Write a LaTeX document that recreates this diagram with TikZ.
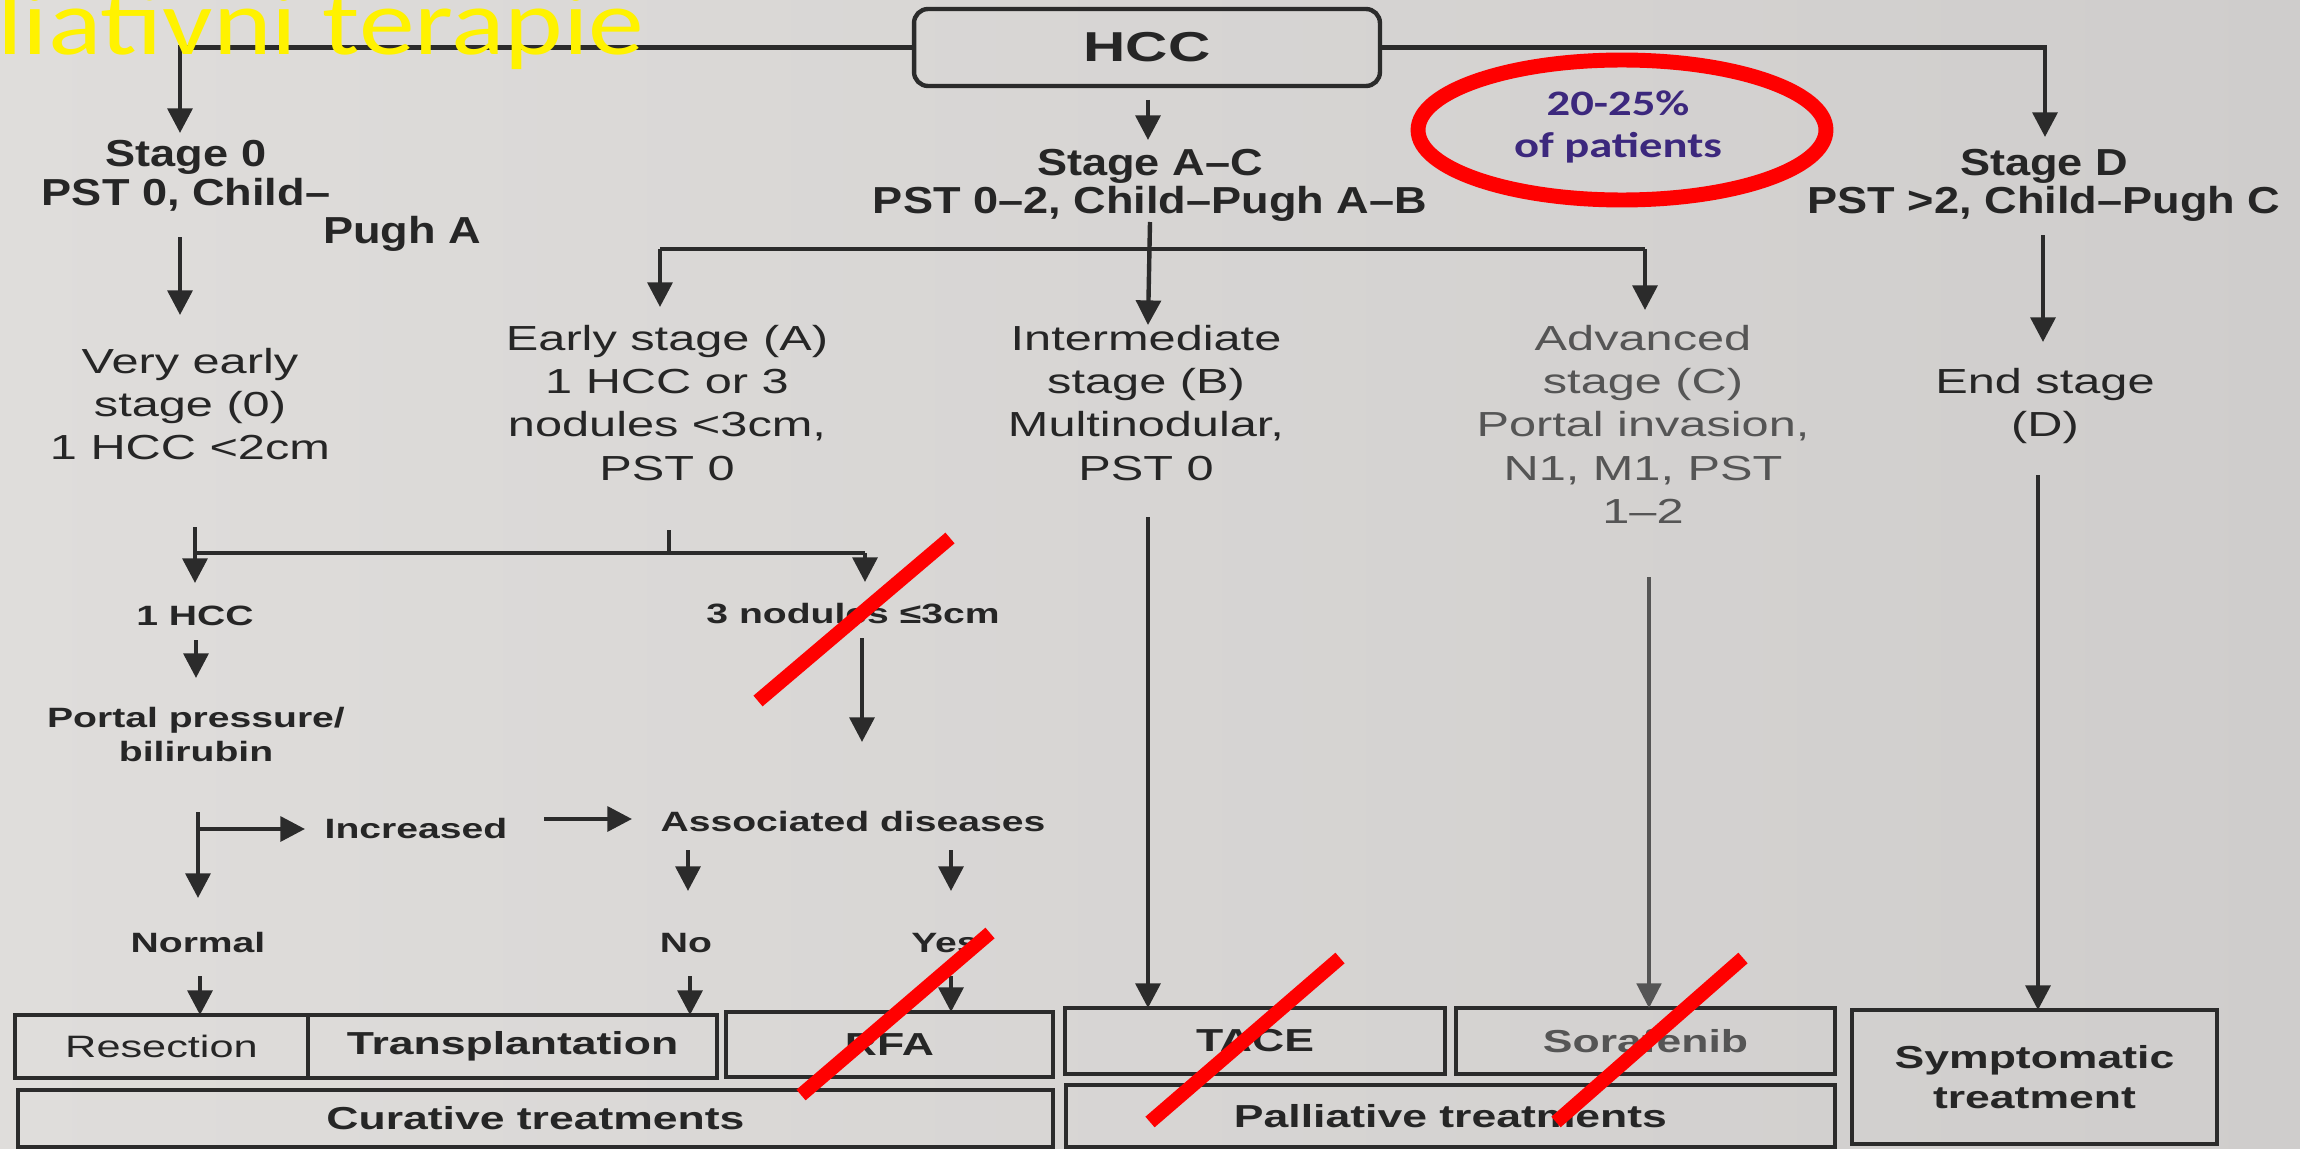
\documentclass[tikz,border=0pt]{standalone}
\usepackage{fontspec}
\usetikzlibrary{arrows.meta}
\setmainfont{Liberation Sans}
\newfontfamily\fA{Liberation Sans}[FakeStretch=1.2]
\newfontfamily\fB{Liberation Sans}[FakeStretch=1.4]
\newfontfamily\fT{Carlito}[FakeStretch=1.19]
\newfontfamily\fP{Carlito}[FakeStretch=1.3]
\newcommand{\mlines}[1]{\begin{tabular}[t]{@{}c@{}}#1\end{tabular}}
\definecolor{lc}{HTML}{2B2B2B}
\definecolor{tc}{HTML}{262626}
\definecolor{gc}{HTML}{555555}
\definecolor{pc}{RGB}{60,40,125}
\definecolor{bgL}{RGB}{223,221,219}
\definecolor{bgR}{RGB}{207,205,204}
\tikzset{
  lbl/.style={inner sep=0pt, outer sep=0pt, text=tc, anchor=base},
  topl/.style={lbl, font=\fA\bfseries\fontsize{21.4pt}{22pt}\selectfont},
  midl/.style={lbl, font=\fB\fontsize{19.8pt}{24.7pt}\selectfont},
  smalll/.style={lbl, font=\fB\bfseries\fontsize{15.9pt}{19.8pt}\selectfont},
  box/.style={draw=lc, line width=2.5pt, inner sep=0pt, outer sep=0pt, text=tc, align=center,
    font=\fB\bfseries\fontsize{18.1pt}{22.7pt}\selectfont},
  arr/.style={draw=lc, line width=2.5pt, -{Triangle[width=14pt,length=14pt]}},
  ln/.style={draw=lc, line width=2.5pt},
  slash/.style={draw=red, line width=8pt},
}
\begin{document}
\begin{tikzpicture}[x=0.02cm, y=-0.02cm]
\shade[left color=bgL, right color=bgR] (0,0) rectangle (2300,1149);
\useasboundingbox (0,0) rectangle (2300,1149);

% top box
\node[box, rounded corners=0.28cm, minimum width=9.32cm, minimum height=1.54cm,
  font=\fB\bfseries\fontsize{23.8pt}{24pt}\selectfont] (hcc) at (1147,47.5) {HCC};

% stage labels
\node[topl] (s0) at (186,167) {\mlines{Stage 0\\PST 0, Child–}};
\node[topl] (s0b) at (402,243) {Pugh A};
\node[topl] (sac) at (1150,175) {\mlines{Stage A–C\\PST 0–2, Child–Pugh A–B}};
\node[topl] (sd) at (2044,175) {\mlines{Stage D\\PST >2, Child–Pugh C}};
\node[lbl, text=pc, font=\fP\bfseries\fontsize{20.4pt}{24.4pt}\selectfont] (pct) at (1618,115) {\mlines{20-25\%\\of patients}};

\node[midl] (ve) at (190,373) {\mlines{Very early\\stage (0)\\1 HCC <2cm}};
\node[midl] (es) at (667,350) {\mlines{Early stage (A)\\1 HCC or 3\\nodules <3cm,\\PST 0}};
\node[midl] (is) at (1146,350) {\mlines{Intermediate\\stage (B)\\Multinodular,\\PST 0}};
\node[midl, text=gc] (as) at (1643,350) {\mlines{Advanced\\stage (C)\\Portal invasion,\\N1, M1, PST\\1–2}};
\node[midl] (ds) at (2045,393) {\mlines{End stage\\(D)}};

\node[smalll] (h1) at (195,625) {1 HCC};
\node[smalll] (pp) at (196,727) {\mlines{Portal pressure/\\bilirubin}};
\node[smalll] (inc) at (416,838) {Increased};
\node[smalll] (ad) at (853,831) {Associated diseases};
\node[smalll] (nor) at (198,952) {Normal};
\node[smalll] (no) at (686,952) {No};
\node[smalll] (yes) at (945,952) {Yes};
\node[smalll] (n3) at (853,623) {3 nodules ≤3cm};

% bottom boxes
\node[box, minimum width=5.86cm, minimum height=1.26cm, font=\fB\fontsize{17.6pt}{20pt}\selectfont] (res) at (161.5,1046.5) {Resection};
\node[box, minimum width=8.18cm, minimum height=1.26cm] (tra) at (512.5,1046.5) {Transplantation};
\node[box, minimum width=6.54cm, minimum height=1.30cm] (rfa) at (889.5,1044.5) {RFA};
\node[box, minimum width=20.70cm, minimum height=1.14cm] (cur) at (535.5,1118.5) {Curative treatments};
\node[box, minimum width=7.60cm, minimum height=1.32cm] (tace) at (1255,1041) {TACE};
\node[box, minimum width=7.58cm, minimum height=1.32cm, text=gc] (sora) at (1645.5,1041) {Sorafenib};
\node[box, minimum width=15.38cm, minimum height=1.24cm] (pal) at (1450.5,1116) {Palliative treatments};
\node[box, minimum width=7.30cm, minimum height=2.68cm] (sym) at (2034.5,1077) {Symptomatic\\treatment};

% coordinates
\coordinate (t0) at (180,133);
\coordinate (td) at (2045,137);
\coordinate (hs) at (1148,100);
\coordinate (hst) at (1148,140);
\coordinate (v0a) at (180,237);
\coordinate (v0b) at (180,315);
\coordinate (ba0) at (1150,222);
\coordinate (bat) at (1148,325);
\coordinate (eA) at (660,249);
\coordinate (cA) at (1645,249);
\coordinate (eAt) at (660,307);
\coordinate (cAt) at (1645,310);
\coordinate (dA) at (2043,235);
\coordinate (dAt) at (2043,342);
\coordinate (k1) at (669,530);
\coordinate (k2) at (669,553);
\coordinate (kl) at (195,553);
\coordinate (kr) at (865,553);
\coordinate (klt) at (195,527);
\coordinate (klb) at (195,583);
\coordinate (krb) at (865,582);
\coordinate (h1a) at (196,640);
\coordinate (h1b) at (196,678);
\coordinate (pa) at (198,812);
\coordinate (pb) at (198,898);
\coordinate (pc1) at (198,829);
\coordinate (pc2) at (305,829);
\coordinate (ia) at (544,819);
\coordinate (ib) at (632,819);
\coordinate (a1a) at (688,850);
\coordinate (a1b) at (688,891);
\coordinate (a2a) at (951,850);
\coordinate (a2b) at (951,891);
\coordinate (na) at (200,976);
\coordinate (noa) at (690,976);
\coordinate (ya) at (951,976);
\coordinate (n3a) at (862,638);
\coordinate (n3b) at (862,742);
\coordinate (ia2) at (1148,517);
\coordinate (aa2) at (1649,577);
\coordinate (da2) at (2038,475);

% connectors
\draw[arr] (hcc.west) -- (hcc.west -| t0) -- (t0);
\draw[arr] (hcc.east) -- (hcc.east -| td) -- (td);
\draw[arr] (hs) -- (hst);
\draw[arr] (v0a) -- (v0b);
\draw[arr] (ba0) -- (bat);
\draw[ln] (eA) -- (cA);
\draw[arr] (eA) -- (eAt);
\draw[arr] (cA) -- (cAt);
\draw[arr] (dA) -- (dAt);
\draw[ln] (k1) -- (k2);
\draw[ln] (kl) -- (kr);
\draw[arr] (klt) -- (klb);
\draw[arr] (kr) -- (krb);
\draw[arr] (h1a) -- (h1b);
\draw[arr] (pa) -- (pb);
\draw[arr] (pc1) -- (pc2);
\draw[arr] (ia) -- (ib);
\draw[arr] (a1a) -- (a1b);
\draw[arr] (a2a) -- (a2b);
\draw[arr] (na) -- (na |- res.north);
\draw[arr] (noa) -- (noa |- tra.north);
\draw[arr] (ya) -- (ya |- rfa.north);
\draw[arr] (n3a) -- (n3b);
\draw[arr] (ia2) -- (ia2 |- tace.north);
\draw[arr, draw=gc, line width=1.8pt] (aa2) -- (aa2 |- sora.north);
\draw[arr] (da2) -- (da2 |- sym.north);

% annotations
\node[anchor=base east, inner sep=0pt, text=yellow, font=\fT\fontsize{53.4pt}{54pt}\selectfont] (title) at (645,55) {liativni terapie};
\draw[red, line width=8.5pt] (1622,130) ellipse [x radius=4.08cm, y radius=1.40cm];
\coordinate (r1a) at (758,701); \coordinate (r1b) at (950,538);
\coordinate (r2a) at (801,1095); \coordinate (r2b) at (990,933);
\coordinate (r3a) at (1150,1122); \coordinate (r3b) at (1340,958);
\coordinate (r4a) at (1556,1122); \coordinate (r4b) at (1743,958);
\draw[slash] (r1a) -- (r1b);
\draw[slash] (r2a) -- (r2b);
\draw[slash] (r3a) -- (r3b);
\draw[slash] (r4a) -- (r4b);
\end{tikzpicture}
\end{document}
